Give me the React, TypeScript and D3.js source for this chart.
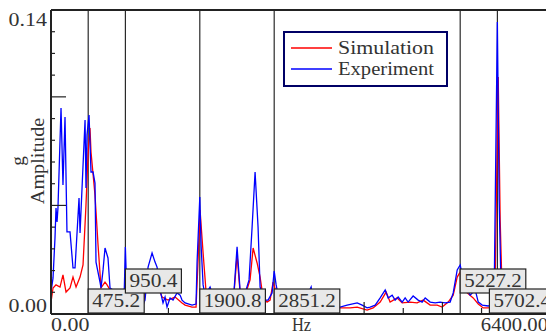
import React from 'react';
import * as d3 from 'd3';

const simFreq = [0, 26, 64, 115, 153, 192, 243, 281, 320, 371, 409, 447, 473, 498, 511, 562, 601, 639, 690, 716, 754, 856, 933, 971, 1074, 1176, 1227, 1291, 1367, 1419, 1495, 1585, 1674, 1713, 1802, 1853, 1879, 1904, 1943, 1981, 2058, 2224, 2339, 2377, 2415, 2492, 2543, 2582, 2633, 2671, 2709, 2760, 2799, 2837, 2876, 3054, 3310, 3502, 3693, 3821, 3911, 4038, 4115, 4205, 4281, 4332, 4422, 4486, 4588, 4677, 4754, 4844, 4933, 4997, 5074, 5138, 5189, 5227, 5278, 5317, 5393, 5458, 5521, 5585, 5649, 5674, 5713, 5738, 5764, 5815, 5994, 6400];
const simAmp = [0.0055, 0.0120, 0.0134, 0.0124, 0.0180, 0.0101, 0.0120, 0.0170, 0.0124, 0.0170, 0.0226, 0.0502, 0.0732, 0.0857, 0.0746, 0.0548, 0.0318, 0.0120, 0.0147, 0.0134, 0.0111, 0.0087, 0.0064, 0.0046, 0.0037, 0.0032, 0.0157, 0.0203, 0.0124, 0.0078, 0.0064, 0.0078, 0.0051, 0.0041, 0.0032, 0.0032, 0.0249, 0.0479, 0.0281, 0.0101, 0.0083, 0.0083, 0.0101, 0.0272, 0.0101, 0.0101, 0.0157, 0.0304, 0.0235, 0.0170, 0.0078, 0.0055, 0.0064, 0.0147, 0.0101, 0.0055, 0.0055, 0.0046, 0.0028, 0.0028, 0.0032, 0.0018, 0.0028, 0.0055, 0.0101, 0.0055, 0.0074, 0.0051, 0.0055, 0.0051, 0.0064, 0.0041, 0.0041, 0.0032, 0.0055, 0.0087, 0.0170, 0.0193, 0.0134, 0.0097, 0.0074, 0.0046, 0.0028, 0.0028, 0.0032, 0.0157, 0.1091, 0.0433, 0.0087, 0.0041, 0.0032, 0.0028];

const expFreq = [0, 26, 51, 64, 77, 89, 128, 153, 179, 204, 243, 281, 307, 358, 371, 435, 447, 460, 486, 511, 537, 562, 575, 626, 639, 665, 690, 728, 754, 792, 831, 882, 933, 950, 971, 1074, 1163, 1201, 1240, 1291, 1329, 1355, 1393, 1431, 1457, 1482, 1521, 1559, 1610, 1649, 1674, 1713, 1802, 1853, 1866, 1901, 1917, 1943, 1968, 2032, 2070, 2160, 2262, 2339, 2377, 2415, 2492, 2530, 2569, 2607, 2645, 2671, 2735, 2773, 2824, 2851, 2876, 2901, 3054, 3246, 3323, 3348, 3502, 3693, 3783, 3911, 3975, 4038, 4077, 4141, 4205, 4269, 4307, 4358, 4396, 4435, 4486, 4524, 4562, 4626, 4690, 4741, 4780, 4844, 4908, 4971, 5035, 5099, 5138, 5189, 5227, 5266, 5317, 5355, 5419, 5458, 5509, 5585, 5636, 5662, 5702, 5725, 5751, 5802, 5930, 6122, 6400];
const expAmp = [0.0101, 0.0166, 0.0350, 0.0488, 0.0424, 0.0488, 0.0949, 0.0594, 0.0907, 0.0378, 0.0378, 0.0212, 0.0212, 0.0534, 0.0373, 0.0893, 0.0580, 0.0824, 0.0916, 0.0654, 0.0654, 0.0603, 0.0239, 0.0147, 0.0120, 0.0203, 0.0304, 0.0258, 0.0120, 0.0111, 0.0083, 0.0074, 0.0064, 0.0309, 0.0064, 0.0041, 0.0032, 0.0064, 0.0216, 0.0281, 0.0239, 0.0216, 0.0111, 0.0051, 0.0078, 0.0032, 0.0074, 0.0064, 0.0097, 0.0087, 0.0064, 0.0051, 0.0041, 0.0046, 0.0239, 0.0539, 0.0318, 0.0134, 0.0087, 0.0124, 0.0083, 0.0083, 0.0087, 0.0111, 0.0309, 0.0111, 0.0111, 0.0157, 0.0401, 0.0654, 0.0401, 0.0124, 0.0064, 0.0064, 0.0097, 0.0198, 0.0134, 0.0087, 0.0064, 0.0064, 0.0124, 0.0064, 0.0055, 0.0032, 0.0041, 0.0051, 0.0041, 0.0028, 0.0032, 0.0041, 0.0074, 0.0111, 0.0074, 0.0087, 0.0064, 0.0078, 0.0055, 0.0074, 0.0055, 0.0083, 0.0064, 0.0055, 0.0074, 0.0055, 0.0051, 0.0055, 0.0051, 0.0055, 0.0097, 0.0203, 0.0226, 0.0157, 0.0111, 0.0087, 0.0111, 0.0055, 0.0041, 0.0037, 0.0041, 0.0120, 0.1345, 0.0525, 0.0087, 0.0051, 0.0041, 0.0041, 0.0037];

const markerFreqs = [475.2, 950.4, 1900.8, 2851.2, 5227.2, 5702.4];
const markerRow = [0, 1, 0, 0, 1, 0]; // 0 = low box, 1 = raised box

const seriesNames = ['Simulation', 'Experiment'];
const seriesColors = ['#ff0000', '#0000ff'];

const W = 546;
const H = 335;
const FONT = '"Liberation Serif", "DejaVu Serif", serif';
const CH = 9.6; // half-width cell, like the original CJK font

// serif text squeezed into fixed-width cells
const Txt = ({ s, size = 18.5, ...rest }: any) => (
  <text fontSize={size} fill="#333" textLength={s.length * CH} lengthAdjust="spacingAndGlyphs" {...rest}>{s}</text>
);

export default function App() {
  const x = d3.scaleLinear().domain([0, 6400]).range([51, 552]);
  const y = d3.scaleLinear().domain([0, 0.14]).range([314, 10]);
  const [x0, x1] = x.range();
  const [yb, yt] = y.range();

  const line = d3.line<[number, number]>()
    .x(d => x(d[0]))
    .y(d => y(d[1]));

  const sim = d3.zip(simFreq, simAmp) as [number, number][];
  const exp = d3.zip(expFreq, expAmp) as [number, number][];

  const yTicks = d3.range(1, 14).map(i => i / 100);
  const xTicks = d3.range(500, 6400, 500);

  return (
    <svg width={W} height={H} style={{ position: 'absolute', left: 0, top: 0, background: '#fff' }}
      fontFamily={FONT}>
      {/* markers */}
      {markerFreqs.map(f => (
        <line key={'m' + f} x1={x(f)} x2={x(f)} y1={yt} y2={yb} stroke="#2a2a2a" strokeWidth={1.2} />
      ))}

      {/* series */}
      <path d={line(sim) || ''} fill="none" stroke={seriesColors[0]} strokeWidth={1.3} />
      <path d={line(exp) || ''} fill="none" stroke={seriesColors[1]} strokeWidth={1.3} />

      {/* frame */}
      <line x1={x0} x2={x0} y1={yt} y2={yb} stroke="#222" strokeWidth={2} />
      <line x1={x0} x2={x1} y1={yt} y2={yt} stroke="#222" strokeWidth={2} />
      <line x1={x0} x2={x1} y1={yb} y2={yb} stroke="#222" strokeWidth={2} />

      {yTicks.map((t, i) => (
        <line key={'yt' + i} x1={x0} x2={x0 + ((i + 1) % 5 === 0 ? 15 : 4)} y1={y(t)} y2={y(t)}
          stroke="#222" strokeWidth={1.2} />
      ))}
      {xTicks.map(t => (
        <line key={'xt' + t} x1={x(t)} x2={x(t)} y1={yb} y2={yb - (t % 1000 === 0 ? 12 : 6)}
          stroke="#222" strokeWidth={1.2} />
      ))}

      {/* marker labels */}
      {markerFreqs.map((f, i) => {
        const label = f.toFixed(1);
        const bw = label.length * CH + 8;
        const bh = 24;
        const bx = Math.min(x(f), x1 + 3 - bw);
        const by = markerRow[i] === 1 ? 269 : 289;
        return (
          <g key={'lb' + f}>
            <rect x={bx} y={by} width={bw} height={bh} fill="#e8e8e8" stroke="#222" strokeWidth={1.2} />
            <Txt s={label} x={bx + 4} y={by + 18} />
          </g>
        );
      })}

      {/* axis labels */}
      <Txt s="0.14" x={x0 - 4 - 4 * CH} y={26} />
      <Txt s="0.00" x={x0 - 4 - 4 * CH} y={312} />
      <Txt s="0.00" x={x0} y={331} />
      <Txt s="Hz" x={(x0 + x1) / 2 - CH} y={331} />
      <Txt s="6400.00" x={x1 - 4 - 7 * CH} y={331} />
      <g transform="translate(44,161) rotate(-90)">
        <Txt s="Amplitude" x={-4.5 * CH} y={0} />
      </g>
      <g transform="translate(24,161) rotate(-90)">
        <Txt s="g" x={-0.5 * CH} y={0} />
      </g>

      {/* legend */}
      <rect x={284} y={32} width={163} height={54} fill="#fff" stroke="#000066" strokeWidth={2} />
      {seriesNames.map((n, i) => (
        <g key={n}>
          <line x1={291} x2={332} y1={48 + i * 21} y2={48 + i * 21} stroke={seriesColors[i]} strokeWidth={1.3} />
          <Txt s={n} x={338} y={54 + i * 21} />
        </g>
      ))}
    </svg>
  );
}
